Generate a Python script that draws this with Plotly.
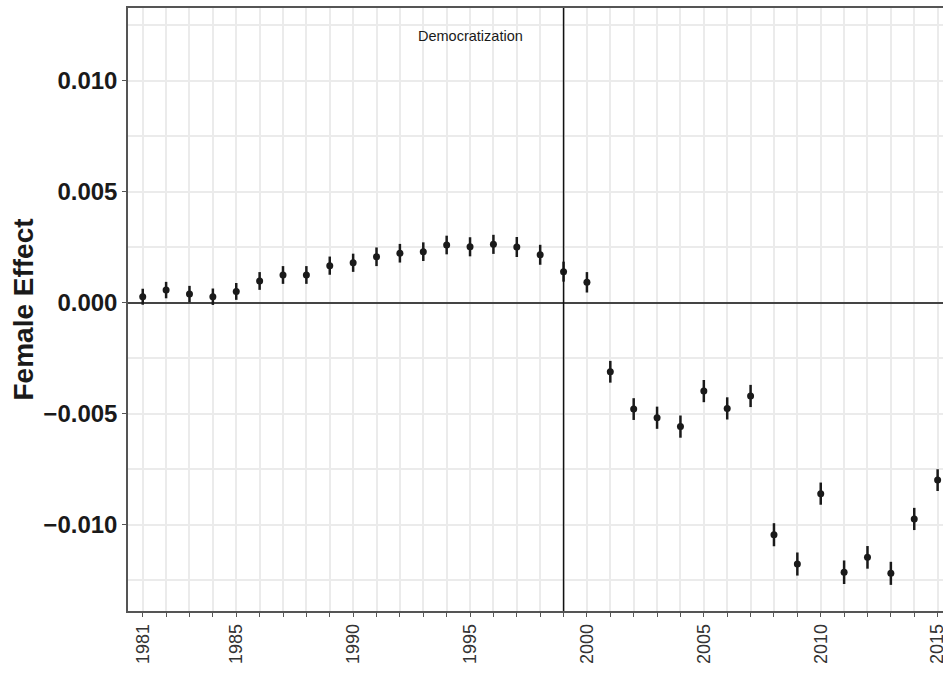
import plotly.graph_objects as go

# ---- data ----
years = list(range(1981, 2016))
effect = [0.00026, 0.00056, 0.00038, 0.00026, 0.00050, 0.00097, 0.00124, 0.00124,
          0.00166, 0.00179, 0.00206, 0.00222, 0.00229, 0.00259, 0.00251, 0.00262,
          0.00250, 0.00215, 0.00139, 0.00091,
          -0.00312, -0.00480, -0.00519, -0.00559, -0.00399, -0.00477, -0.00421,
          -0.01046, -0.01178, -0.00861, -0.01215, -0.01148, -0.01220, -0.00975, -0.00800]
err = [0.00036, 0.00037, 0.00037, 0.00037, 0.00038, 0.00040, 0.00040, 0.00040,
       0.00041, 0.00041, 0.00042, 0.00042, 0.00042, 0.00042, 0.00043, 0.00043,
       0.00045, 0.00045, 0.00045, 0.00046,
       0.00049, 0.00049, 0.00050, 0.00050, 0.00050, 0.00050, 0.00050,
       0.00052, 0.00052, 0.00050, 0.00053, 0.00051, 0.00052, 0.00050, 0.00049]
x_labels = ["1981", "1985", "1990", "1995", "2000", "2005", "2010", "2015"]
y_ticks = [-0.010, -0.005, 0.0, 0.005, 0.010]
y_ticktext = ["\u22120.010", "\u22120.005", "0.000", "0.005", "0.010"]
event_year = 1999
event_label = "Democratization"
y_title = "Female Effect"

FONT = "Liberation Sans, Arial, Helvetica, sans-serif"
GRID = "#EBEBEB"
INK = "#1a1a1a"

fig = go.Figure()
fig.add_trace(go.Scatter(
    x=years, y=effect, mode="markers",
    marker=dict(size=7, color=INK),
    error_y=dict(type="data", array=err, visible=True, width=0,
                 thickness=2.5, color=INK),
    showlegend=False, cliponaxis=False,
))

fig.add_shape(type="line", xref="x", yref="paper", x0=event_year, x1=event_year,
              y0=0, y1=1, line=dict(color="#111111", width=1.5), layer="above")

fig.add_annotation(x=1995, y=0.0120, xref="x", yref="y", text=event_label,
                   showarrow=False, font=dict(family=FONT, size=14.5, color=INK))

fig.add_annotation(x=0, y=0.5, xref="paper", yref="paper",
                   xshift=-105, text=y_title, textangle=-90, showarrow=False,
                   xanchor="center", yanchor="middle",
                   font=dict(family=FONT, size=28, color=INK, weight="bold"))

fig.update_layout(
    width=943, height=677,
    margin=dict(l=128, r=0, t=8, b=66, autoexpand=False),
    paper_bgcolor="white", plot_bgcolor="white",
    font=dict(family=FONT, color=INK),
)
fig.update_xaxes(
    range=[1980.37, 2015.23],
    tickvals=years,
    ticktext=[str(y) if str(y) in x_labels else "" for y in years],
    tickangle=-90,
    tickfont=dict(family=FONT, size=18, color="#333333"),
    ticks="outside", ticklen=4, tickcolor="#555555", tickwidth=1,
    ticklabeloverflow="allow",
    showgrid=True, gridcolor=GRID, gridwidth=1.6,
    showline=True, linecolor="#555555", linewidth=1.5, mirror=True,
    zeroline=False, automargin=False,
)
fig.update_yaxes(
    range=[-0.013896, 0.013266],
    tickvals=y_ticks, ticktext=y_ticktext,
    tickfont=dict(family=FONT, size=24, color=INK, weight="bold"),
    ticks="outside", ticklen=4, tickcolor="#555555", tickwidth=1,
    showgrid=True, gridcolor=GRID, gridwidth=1.6,
    minor=dict(dtick=0.0025, tick0=0, showgrid=True, gridcolor=GRID, gridwidth=1.6),
    showline=True, linecolor="#555555", linewidth=1.5,
    zeroline=True, zerolinecolor="#444444", zerolinewidth=1.8, automargin=False,
)

fig.write_html(
    "out.html",
    config={"displayModeBar": False},
    post_script="document.body.style.margin='0';document.body.style.padding='0';"
                "document.documentElement.style.overflow='hidden';",
)
